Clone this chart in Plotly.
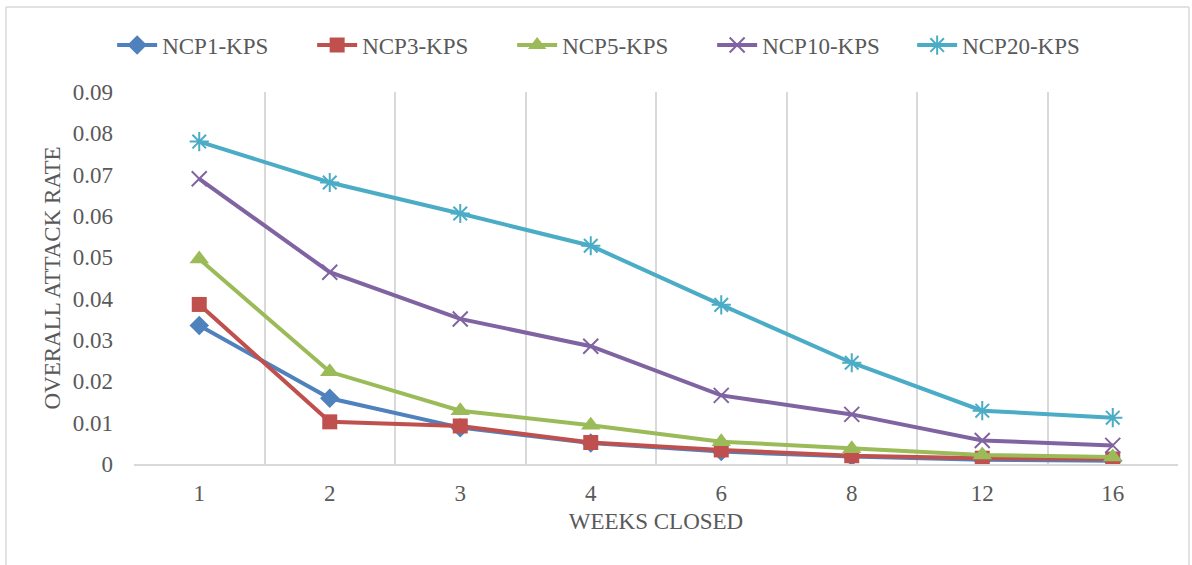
import plotly.graph_objects as go

weeks = ["1", "2", "3", "4", "6", "8", "12", "16"]
ncp1 = [0.0335, 0.0159, 0.0088, 0.0051, 0.0030, 0.0018, 0.0010, 0.0008]
ncp3 = [0.0386, 0.0102, 0.0092, 0.0052, 0.0034, 0.0020, 0.0014, 0.0012]
ncp5 = [0.0496, 0.0223, 0.0129, 0.0094, 0.0054, 0.0037, 0.0022, 0.0017]
ncp10 = [0.0690, 0.0464, 0.0351, 0.0285, 0.0166, 0.0120, 0.0057, 0.0045]
ncp20 = [0.0780, 0.0681, 0.0606, 0.0528, 0.0385, 0.0245, 0.0129, 0.0112]
y_ticks = [0, 0.01, 0.02, 0.03, 0.04, 0.05, 0.06, 0.07, 0.08, 0.09]
y_tick_text = ["0", "0.01", "0.02", "0.03", "0.04", "0.05", "0.06", "0.07", "0.08", "0.09"]

series = [
    ("NCP1-KPS", ncp1, "#4F81BD", dict(symbol="diamond", size=15)),
    ("NCP3-KPS", ncp3, "#C0504D", dict(symbol="square", size=15)),
    ("NCP5-KPS", ncp5, "#9BBB59", dict(symbol="triangle-up", size=17)),
    ("NCP10-KPS", ncp10, "#8064A2", dict(symbol="x-thin-open", size=15, line=dict(width=2))),
    ("NCP20-KPS", ncp20, "#4BACC6", dict(symbol="asterisk-open", size=16, line=dict(width=2))),
]

x_pos = list(range(len(weeks)))
FONT = "Liberation Serif"
GRAY = "#595959"
FS = 23

fig = go.Figure()
for name, vals, color, mk in series:
    marker = dict(color=color, **mk)
    if "line" in mk:
        marker["line"] = dict(color=color, width=mk["line"]["width"])
    fig.add_trace(go.Scatter(
        x=x_pos, y=vals, name=name, mode="lines+markers",
        line=dict(color=color, width=4), marker=marker,
    ))

# chart frame
frame = dict(type="line", xref="paper", yref="paper", line=dict(color="#D9D9D9", width=1.5))
x_left = (6 - 134) / 1044
x_right = (1189 - 134) / 1044
y_top = 1 + (92 - 7) / 372
y_bot = -(573 - 464) / 372
fig.add_shape(x0=x_left, x1=x_right, y0=y_top, y1=y_top, **frame)
fig.add_shape(x0=x_left, x1=x_left, y0=y_bot, y1=y_top, **frame)
fig.add_shape(x0=x_right, x1=x_right, y0=y_bot, y1=y_top, **frame)

fig.update_layout(
    width=1192, height=565,
    margin=dict(l=134, r=14, t=92, b=101),
    paper_bgcolor="white", plot_bgcolor="white",
    font=dict(family=FONT, size=FS, color=GRAY),
    showlegend=True,
    legend=dict(
        orientation="h", x=0.458, xanchor="center", y=1.126, yanchor="middle",
        font=dict(family=FONT, size=FS, color=GRAY),
        itemwidth=40, tracegroupgap=0,
        entrywidth=145, entrywidthmode="pixels",
    ),
    xaxis=dict(
        range=[-0.5, len(weeks) - 0.5],
        tickmode="array", tickvals=x_pos, ticktext=weeks,
        showgrid=False, zeroline=False,
        showline=True, linecolor="#D9D9D9", linewidth=1.5,
        ticks="", ticklen=0, ticklabelstandoff=8,
        minor=dict(tickvals=[i + 0.5 for i in x_pos[:-1]], showgrid=True,
                   gridcolor="#D9D9D9", gridwidth=1.5, ticks=""),
        title=dict(text="WEEKS CLOSED", font=dict(family=FONT, size=FS, color=GRAY), standoff=8),
        tickfont=dict(family=FONT, size=FS, color=GRAY),
    ),
    yaxis=dict(
        range=[0, 0.09],
        tickmode="array", tickvals=y_ticks, ticktext=y_tick_text,
        showgrid=False, zeroline=False, showline=False, ticks="",
        ticklabelstandoff=20,
        tickfont=dict(family=FONT, size=FS, color=GRAY),
        title=dict(text="OVERALL ATTACK RATE", font=dict(family=FONT, size=FS, color=GRAY), standoff=5),
    ),
)

fig.write_html("out.html")
